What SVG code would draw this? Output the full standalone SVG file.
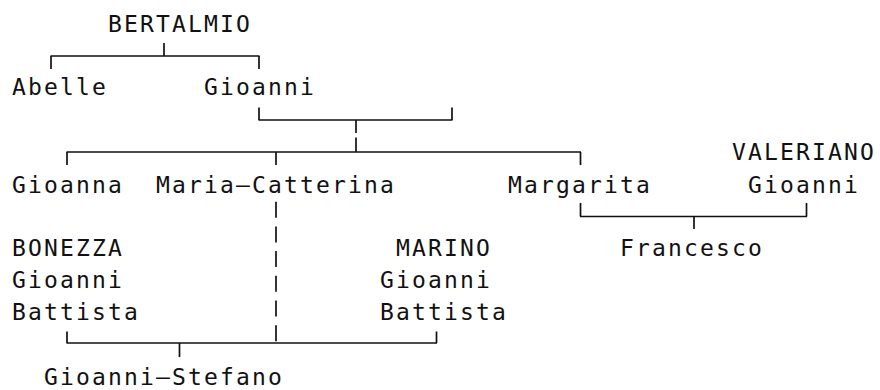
<svg xmlns="http://www.w3.org/2000/svg" width="880" height="390" viewBox="0 0 880 390">
<style>
text{font-family:"DejaVu Sans Mono","Liberation Mono",monospace;font-size:23px;letter-spacing:2.15px;fill:#111}
.c line{stroke:#111;stroke-width:1.7;fill:none}
.c .d{stroke-dasharray:16 8.7}
</style>
<rect width="880" height="390" fill="#fff"/>
<g class="c" id="connectors">
<line x1="164" y1="43" x2="164" y2="56"/>
<line x1="50.5" y1="56" x2="259.5" y2="56"/>
<line x1="51" y1="56" x2="51" y2="69"/>
<line x1="259" y1="56" x2="259" y2="69"/>
<line x1="259" y1="107.5" x2="259" y2="120"/>
<line x1="452" y1="107.5" x2="452" y2="120"/>
<line x1="258.5" y1="120" x2="452.5" y2="120"/>
<line x1="356" y1="120" x2="356" y2="133"/>
<line x1="356" y1="137.5" x2="356" y2="152"/>
<line x1="66.5" y1="152" x2="581" y2="152"/>
<line x1="67" y1="152" x2="67" y2="165"/>
<line x1="276" y1="152" x2="276" y2="165"/>
<line x1="580.5" y1="152" x2="580.5" y2="165"/>
<line x1="580.5" y1="203" x2="580.5" y2="216.5"/>
<line x1="806.5" y1="203" x2="806.5" y2="216.5"/>
<line x1="580" y1="216.5" x2="807" y2="216.5"/>
<line x1="694" y1="216.5" x2="694" y2="229"/>
<line class="d" x1="276" y1="201.7" x2="276" y2="343"/>
<line x1="67" y1="331.5" x2="67" y2="343"/>
<line x1="436.5" y1="331.5" x2="436.5" y2="343"/>
<line x1="66.5" y1="343" x2="437" y2="343"/>
<line x1="179.5" y1="343" x2="179.5" y2="357"/>
</g>
<g id="bertalmio"><text x="108" y="31.5">BERTALMIO</text></g>
<g id="abelle"><text x="12" y="95">Abelle</text></g>
<g id="gioanni"><text x="204" y="95">Gioanni</text></g>
<g id="gioanna"><text x="12" y="192.5">Gioanna</text></g>
<g id="maria-catterina"><text x="156" y="192.5">Maria—Catterina</text></g>
<g id="margarita"><text x="508" y="192.5">Margarita</text></g>
<g id="valeriano-gioanni"><text x="732" y="160">VALERIANO</text><text x="748" y="192.5">Gioanni</text></g>
<g id="francesco"><text x="620" y="256">Francesco</text></g>
<g id="bonezza"><text x="12" y="256">BONEZZA</text><text x="12" y="288">Gioanni</text><text x="12" y="320">Battista</text></g>
<g id="marino"><text x="396" y="256">MARINO</text><text x="380" y="288">Gioanni</text><text x="380" y="320">Battista</text></g>
<g id="gioanni-stefano"><text x="44" y="385">Gioanni—Stefano</text></g>
</svg>
